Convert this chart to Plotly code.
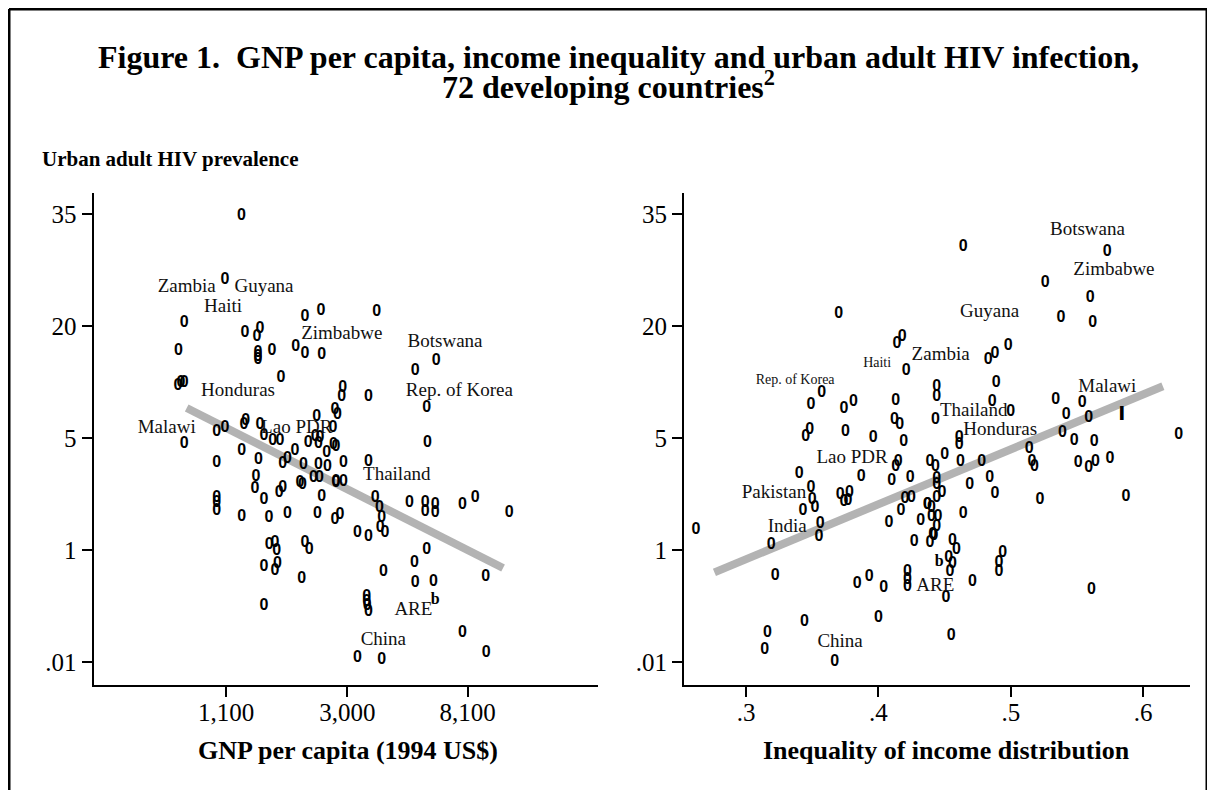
import numpy as np
import plotly.graph_objects as go

# ---------------- data ----------------
Y_TICK_VALUES = [0.01, 1, 5, 20, 35]
Y_TICK_TEXT = [".01", "1", "5", "20", "35"]
GNP_TICK_VALUES = [1100, 3000, 8100]
GNP_TICK_TEXT = ["1,100", "3,000", "8,100"]
GINI_TICK_VALUES = [0.3, 0.4, 0.5, 0.6]
GINI_TICK_TEXT = [".3", ".4", ".5", ".6"]

gnp = [1250, 1090, 778, 742, 740, 758, 778, 1287, 1457, 1421, 1433, 1433, 1433, 1609, 1957,
       2113, 2412, 2113, 2426, 1733, 3821, 5245, 6241, 2885, 2862, 3565, 5779, 2328, 2708, 2760,
       2663, 5808, 2296, 2392, 2671, 778, 1019, 1091, 1277, 1295, 1457, 1253, 1437, 1019, 1506,
       1618, 1718, 1945, 2171, 2359, 2528, 2730, 1826, 1758, 2084, 2359, 2541, 1409, 1398, 1506,
       1019, 1019, 1019, 1253, 1570, 1826, 1758, 1708, 2067, 2263, 2378, 2426, 2730, 2340, 2708,
       1573, 1649, 1672, 1506, 1649, 1681, 2113, 2189, 2057, 1506, 2900, 2027, 2730, 2900, 3565,
       3769, 3904, 2822, 5005, 5697, 5697, 6187, 6187, 7755, 8613, 11407, 3984, 3928, 4093, 3255,
       3565, 5779, 5214, 4036, 5245, 6102, 9405, 3520, 3520, 3530, 3565, 7755, 9430, 3255, 3984]
hiv_gnp = [34.7, 25.2, 20.3, 14.7, 9.5, 9.9, 9.9, 18.3, 19.2, 17.5, 14.3, 13.6, 13.1, 14.7, 15.5,
           20.9, 21.6, 14.1, 13.9, 10.5, 21.5, 11.5, 13.0, 9.25, 8.34, 8.34, 7.22, 6.5, 7.07, 6.65,
           5.66, 4.64, 5.08, 4.98, 4.52, 4.58, 5.40, 5.64, 5.87, 6.17, 5.87, 4.17, 3.65, 3.48, 5.13,
           4.81, 4.81, 4.17, 4.67, 4.58, 4.01, 4.41, 3.68, 3.44, 3.39, 3.39, 3.31, 2.84, 2.39, 2.05,
           2.10, 1.97, 1.76, 1.60, 1.59, 1.68, 2.43, 2.28, 2.55, 2.80, 2.80, 2.15, 2.61, 1.68, 1.54,
           1.075, 1.11, 0.97, 0.50, 0.43, 0.56, 1.10, 1.0, 0.30, 0.10, 3.48, 2.62, 2.67, 2.67, 3.56,
           2.10, 1.82, 1.65, 1.96, 1.96, 1.73, 1.91, 1.70, 1.91, 2.10, 1.70, 1.58, 1.37, 1.27, 1.27,
           1.21, 1.0, 0.58, 0.41, 0.26, 0.27, 0.33, 0.147, 0.119, 0.10, 0.078, 0.0325, 0.0143, 0.0116, 0.0109]

gini = [0.370, 0.414, 0.418, 0.421, 0.357, 0.349, 0.374, 0.381, 0.413, 0.444, 0.444, 0.443, 0.412, 0.416,
        0.345, 0.348, 0.375, 0.396, 0.419, 0.464, 0.573, 0.526, 0.560, 0.538, 0.562, 0.483, 0.488, 0.498,
        0.489, 0.486, 0.500, 0.534, 0.554, 0.542, 0.559, 0.461, 0.461, 0.539, 0.548, 0.563, 0.627, 0.415,
        0.413, 0.439, 0.443, 0.340, 0.387, 0.410, 0.424, 0.349, 0.350, 0.371, 0.374, 0.378, 0.377, 0.343,
        0.352, 0.420, 0.425, 0.437, 0.440, 0.417, 0.408, 0.432, 0.440, 0.356, 0.355, 0.262, 0.319, 0.427,
        0.439, 0.441, 0.322, 0.384, 0.393, 0.404, 0.422, 0.422, 0.422, 0.344, 0.400, 0.316, 0.314, 0.367,
        0.514, 0.516, 0.518, 0.450, 0.462, 0.478, 0.551, 0.559, 0.564, 0.575, 0.444, 0.444, 0.448, 0.444,
        0.469, 0.484, 0.488, 0.522, 0.587, 0.437, 0.445, 0.464, 0.444, 0.442, 0.456, 0.459, 0.453, 0.456,
        0.454, 0.494, 0.491, 0.491, 0.471, 0.451, 0.561, 0.455]
hiv_gini = [21.2, 16.0, 17.4, 11.4, 8.7, 7.5, 7.13, 7.8, 7.9, 9.4, 8.34, 6.25, 6.25, 5.87,
            5.08, 5.52, 5.40, 5.02, 4.74, 29.7, 29.0, 24.8, 23.0, 20.8, 20.3, 13.1, 14.1, 15.6,
            9.84, 7.8, 6.93, 8.0, 7.68, 6.65, 6.38, 4.98, 4.52, 5.30, 4.81, 4.74, 5.19, 3.56,
            3.31, 3.56, 3.31, 2.97, 2.84, 2.69, 2.83, 2.43, 2.05, 2.20, 2.00, 2.28, 2.03, 1.76,
            1.82, 2.07, 2.10, 1.91, 1.82, 1.76, 1.48, 1.52, 1.60, 1.45, 1.21, 1.33, 1.075, 1.13,
            1.10, 1.24, 0.34, 0.247, 0.33, 0.207, 0.41, 0.29, 0.22, 0.052, 0.060, 0.0325, 0.0164, 0.0101,
            4.25, 3.56, 3.31, 3.92, 3.56, 3.56, 3.48, 3.23, 3.56, 3.68, 2.76, 2.55, 2.26, 2.10,
            2.55, 2.80, 2.24, 2.05, 2.13, 1.91, 1.60, 1.68, 1.39, 1.22, 1.14, 1.0, 0.71, 0.56,
            0.41, 0.875, 0.58, 0.41, 0.27, 0.141, 0.19, 0.029]

fit_gnp = [795, 10850]
fit_hiv_gnp = [7.25, 0.477]
fit_gini = [0.276, 0.615]
fit_hiv_gini = [0.40, 9.5]

left_labels = ["Zambia", "Guyana", "Haiti", "Zimbabwe", "Botswana", "Honduras", "Rep. of Korea",
               "Malawi", "Lao PDR", "Thailand", "ARE", "China"]
left_label_gnp = [795, 1506, 1073, 2862, 6720, 1215, 7564, 674, 1973, 4510, 5172, 4036]
left_label_hiv = [24.3, 24.3, 22.0, 18.1, 16.3, 8.87, 8.87, 5.66, 5.64, 2.94, 0.085, 0.0247]
left_mark_labels = ["b"]
left_mark_gnp = [6187]
left_mark_hiv = [0.128]

right_labels = ["Botswana", "Zimbabwe", "Guyana", "Zambia", "Malawi", "Thailand", "Honduras",
                "Lao PDR", "Pakistan", "India", "ARE", "China"]
right_label_gini = [0.558, 0.578, 0.484, 0.447, 0.573, 0.472, 0.492, 0.380, 0.321, 0.331, 0.443, 0.371]
right_label_hiv = [32.2, 26.4, 21.4, 14.0, 9.37, 6.93, 5.52, 3.73, 2.26, 1.39, 0.23, 0.023]
right_small_labels = ["Haiti", "Rep. of Korea"]
right_small_gini = [0.399, 0.337]
right_small_hiv = [12.6, 10.2]
right_mark_labels = ["b"]
right_mark_gini = [0.446]
right_mark_hiv = [0.62]
right_bar_labels = ["I"]
right_bar_gini = [0.584]
right_bar_hiv = [6.65]


def yscale(v):
    """Map prevalence onto the chart's stretched log scale (ticks evenly spaced)."""
    return np.interp(np.log(np.asarray(v, dtype=float)), np.log(Y_TICK_VALUES),
                     np.arange(len(Y_TICK_VALUES)))


# ---------------- figure ----------------
# the page body has an 8px margin, so the figure is 16px smaller than the window
W, H = 1199, 782
OFF = 8


def px(p):
    return (p - OFF) / W


def py(p):
    return 1 - (p - OFF) / H


SERIF = "Liberation Serif, Times New Roman, serif"
MARK_FONT = dict(family="Liberation Sans Narrow, Liberation Sans, Arial, sans-serif", size=16,
                 color="black", weight="bold")
LABEL_FONT = dict(family=SERIF, size=19, color="#111111")

fig = go.Figure()


def text_trace(x, y, labels, font, xa, ya):
    return go.Scatter(x=x, y=yscale(y), mode="text", text=labels, textfont=font,
                      textposition="middle center", xaxis=xa, yaxis=ya, hoverinfo="skip")


# left panel
fig.add_trace(go.Scatter(x=fit_gnp, y=yscale(fit_hiv_gnp), mode="lines",
                         line=dict(color="#b3b3b3", width=8), xaxis="x", yaxis="y",
                         hoverinfo="skip"))
fig.add_trace(text_trace(gnp, hiv_gnp, ["0"] * len(gnp), MARK_FONT, "x", "y"))
fig.add_trace(text_trace(left_label_gnp, left_label_hiv, left_labels, LABEL_FONT, "x", "y"))
fig.add_trace(text_trace(left_mark_gnp, left_mark_hiv, left_mark_labels,
                         dict(family=SERIF, size=16, color="black", weight="bold"), "x", "y"))

# right panel
fig.add_trace(go.Scatter(x=fit_gini, y=yscale(fit_hiv_gini), mode="lines",
                         line=dict(color="#b3b3b3", width=8), xaxis="x2", yaxis="y2",
                         hoverinfo="skip"))
fig.add_trace(text_trace(gini, hiv_gini, ["0"] * len(gini), MARK_FONT, "x2", "y2"))
fig.add_trace(text_trace(right_label_gini, right_label_hiv, right_labels, LABEL_FONT, "x2", "y2"))
fig.add_trace(text_trace(right_small_gini, right_small_hiv, right_small_labels,
                         dict(family=SERIF, size=14, color="#111111"), "x2", "y2"))
fig.add_trace(text_trace(right_mark_gini, right_mark_hiv, right_mark_labels,
                         dict(family=SERIF, size=16, color="black", weight="bold"), "x2", "y2"))
fig.add_trace(text_trace(right_bar_gini, right_bar_hiv, right_bar_labels,
                         dict(family="DejaVu Sans, Arial, sans-serif", size=19, color="black",
                              weight="bold"), "x2", "y2"))

y_range = [-0.205, 4.188]
ydom = [py(685), py(193)]
axis_common = dict(showline=True, linecolor="black", linewidth=2, ticks="outside", ticklen=10,
                   tickwidth=1.5, tickcolor="black", showgrid=False, zeroline=False,
                   tickfont=dict(family=SERIF, size=25, color="black"), mirror=False)

fig.update_layout(
    width=W, height=H, autosize=False,
    margin=dict(l=0, r=0, t=0, b=0),
    template="none",
    paper_bgcolor="white", plot_bgcolor="white",
    showlegend=False,
    xaxis=dict(domain=[px(93.5), px(598)], type="log", range=[2.566, 4.376],
               tickmode="array", tickvals=GNP_TICK_VALUES, ticktext=GNP_TICK_TEXT,
               anchor="y", ticklabelstandoff=-6, **axis_common),
    yaxis=dict(domain=ydom, range=y_range, tickmode="array",
               tickvals=list(range(len(Y_TICK_VALUES))), ticktext=Y_TICK_TEXT,
               anchor="x", **axis_common),
    xaxis2=dict(domain=[px(684), px(1190)], range=[0.253, 0.6355],
                tickmode="array", tickvals=GINI_TICK_VALUES, ticktext=GINI_TICK_TEXT,
                anchor="y2", ticklabelstandoff=-6, **axis_common),
    yaxis2=dict(domain=ydom, range=y_range, tickmode="array",
                tickvals=list(range(len(Y_TICK_VALUES))), ticktext=Y_TICK_TEXT,
                anchor="x2", **axis_common),
)

title_font = dict(family=SERIF, size=32, color="black", weight="bold")
ann = [
    dict(text="Figure 1.  GNP per capita, income inequality and urban adult HIV infection,",
         x=px(618), y=py(57), font=title_font),
    dict(text="72 developing countries<sup>2</sup>", x=px(608), y=py(85), font=title_font),
    dict(text="Urban adult HIV prevalence", x=px(40), y=py(159), xanchor="left",
         font=dict(family=SERIF, size=21, color="black", weight="bold")),
    dict(text="GNP per capita (1994 US$)", x=px(348), y=py(750),
         font=dict(family=SERIF, size=26, color="black", weight="bold")),
    dict(text="Inequality of income distribution", x=px(946), y=py(750),
         font=dict(family=SERIF, size=26, color="black", weight="bold")),
]
for a in ann:
    a.setdefault("xanchor", "center")
    fig.add_annotation(xref="paper", yref="paper", yanchor="middle", showarrow=False, **a)

# page frame (top, left, right)
for x0, y0, x1, y1 in [(9, 9, 1207, 9), (9, 9, 9, 800), (1207, 9, 1207, 800)]:
    fig.add_shape(type="line", xref="paper", yref="paper", x0=px(x0), x1=px(x1),
                  y0=py(y0), y1=py(y1), line=dict(color="black", width=3))

fig.write_html("out.html")
